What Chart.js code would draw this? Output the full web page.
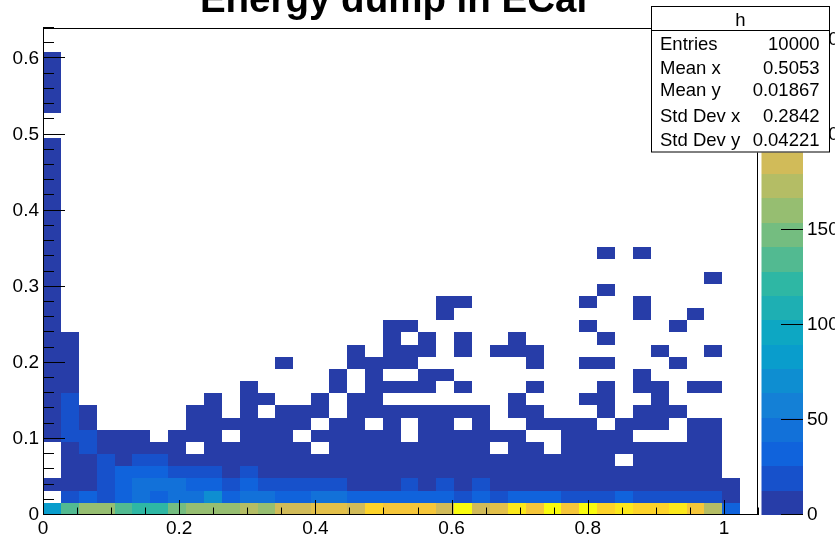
<!DOCTYPE html>
<html>
<head>
<meta charset="utf-8">
<script src="https://cdn.jsdelivr.net/npm/chart.js@4.4.1/dist/chart.umd.min.js"></script>
<style>
  html, body { margin: 0; padding: 0; background: #fff; }
  canvas { display: block; }
</style>
</head>
<body>
<canvas id="c" width="835" height="540"></canvas>
<script>
// ---- histogram binning ----
const nBinsX = 40, xMin = 0, xMax = 1.05;
const nBinsY = 40, yMin = 0, yMax = 0.64;
const xTickValues = [0, 0.2, 0.4, 0.6, 0.8, 1];
const yTickValues = [0, 0.1, 0.2, 0.3, 0.4, 0.5, 0.6];
const zTickValues = [0, 50, 100, 150, 200, 250];

const titleText = 'Energy dump in ECal';
const statsName = 'h';
const statsLabels = ['Entries', 'Mean x', 'Mean y', 'Std Dev x', 'Std Dev y'];
const statsValues = ['10000', '0.5053', '0.01867', '0.2842', '0.04221'];

// ---- bin contents: one array per y bin, indexed by x bin ----
const row00 = [83,134,161,158,136,121,124,148,159,162, 157,172,160,187,184,199,197,188,225,212, 210,213,185,244,189,200,236,209,244,212, 244,223,238,226,222,235,211,174,30,0];
const row01 = [0,19,32,20,33,46,31,44,45,70, 32,46,44,31,33,45,44,32,30,33, 31,34,32,20,31,19,32,30,33,20, 18,21,31,19,20,18,21,19,9,0];
const row02 = [8,11,10,19,32,45,44,46,31,33, 20,30,18,19,20,18,19,11,10,12, 19,11,18,12,17,11,12,10,11,12, 10,11,9,12,10,11,9,10,3,0];
const row03 = [0,8,9,18,31,30,32,17,19,18, 11,17,10,8,7,9,8,7,8,9, 7,8,6,8,7,9,8,7,8,6, 7,8,7,9,8,7,8,6,0,0];
const row04 = [0,7,6,17,9,18,17,5,6,5, 6,5,4,5,6,5,4,5,6,5, 4,5,6,5,4,5,6,5,4,5, 6,5,0,4,5,6,5,4,0,0];
const row05 = [0,5,16,4,5,4,5,6,0,4, 5,4,3,4,5,0,4,3,4,5, 3,4,3,4,5,0,4,3,0,4, 3,4,3,4,3,4,5,3,0,0];
const row06 = [3,15,14,3,2,3,0,3,2,3, 0,2,3,2,0,3,2,3,2,3, 0,2,3,2,3,2,2,0,0,2, 3,2,2,0,0,0,2,3,0,0];
const row07 = [2,14,2,0,0,0,0,0,2,2, 1,2,2,2,1,0,2,2,0,2, 0,1,2,0,2,0,0,2,1,2, 1,0,1,2,1,0,1,2,0,0];
const row08 = [2,15,1,0,0,0,0,0,1,2, 0,1,0,1,2,1,0,2,1,1, 2,1,1,1,1,0,1,1,0,0, 0,1,0,1,2,1,0,0,0,0];
const row09 = [1,14,0,0,0,0,0,0,0,1, 0,1,1,0,0,1,0,1,1,0, 0,0,0,0,0,0,1,0,0,0, 1,1,0,0,1,0,0,0,0,0];
const row10 = [1,2,0,0,0,0,0,0,0,0, 0,1,0,0,0,0,1,0,1,1, 1,1,0,1,0,0,0,1,0,0, 0,1,0,1,1,0,1,1,0,0];
const row11 = [1,1,0,0,0,0,0,0,0,0, 0,0,0,0,0,0,1,0,1,0, 0,1,1,0,0,0,0,0,0,0, 0,0,0,1,0,0,0,0,0,0];
const row12 = [1,1,0,0,0,0,0,0,0,0, 0,0,0,1,0,0,0,1,1,1, 1,0,0,0,0,0,0,1,0,0, 1,1,0,0,0,1,0,0,0,0];
const row13 = [1,1,0,0,0,0,0,0,0,0, 0,0,0,0,0,0,0,1,0,1, 1,1,0,1,0,1,1,1,0,0, 0,0,0,0,1,0,0,1,0,0];
const row14 = [1,1,0,0,0,0,0,0,0,0, 0,0,0,0,0,0,0,0,0,1, 0,1,0,1,0,0,1,0,0,0, 0,1,0,0,0,0,0,0,0,0];
const row15 = [1,0,0,0,0,0,0,0,0,0, 0,0,0,0,0,0,0,0,0,1, 1,0,0,0,0,0,0,0,0,0, 1,0,0,0,0,1,0,0,0,0];
const row16 = [1,0,0,0,0,0,0,0,0,0, 0,0,0,0,0,0,0,0,0,0, 0,0,1,0,0,0,0,0,0,0, 0,0,0,1,0,0,1,0,0,0];
const row17 = [1,0,0,0,0,0,0,0,0,0, 0,0,0,0,0,0,0,0,0,0, 0,0,1,1,0,0,0,0,0,0, 1,0,0,1,0,0,0,0,0,0];
const row18 = [1,0,0,0,0,0,0,0,0,0, 0,0,0,0,0,0,0,0,0,0, 0,0,0,0,0,0,0,0,0,0, 0,1,0,0,0,0,0,0,0,0];
const row19 = [1,0,0,0,0,0,0,0,0,0, 0,0,0,0,0,0,0,0,0,0, 0,0,0,0,0,0,0,0,0,0, 0,0,0,0,0,0,0,1,0,0];
const row20 = [1,0,0,0,0,0,0,0,0,0, 0,0,0,0,0,0,0,0,0,0, 0,0,0,0,0,0,0,0,0,0, 0,0,0,0,0,0,0,0,0,0];
const row21 = [1,0,0,0,0,0,0,0,0,0, 0,0,0,0,0,0,0,0,0,0, 0,0,0,0,0,0,0,0,0,0, 0,1,0,1,0,0,0,0,0,0];
const row22 = [1,0,0,0,0,0,0,0,0,0, 0,0,0,0,0,0,0,0,0,0, 0,0,0,0,0,0,0,0,0,0, 0,0,0,0,0,0,0,0,0,0];
// first x bin only, y bins 23..37
const firstColumnHigh = [1,1,1,1,1,1,1,1,0,0,1,1,1,1,1];

const rowArrays = [row00,row01,row02,row03,row04,row05,row06,row07,row08,row09,row10,
                   row11,row12,row13,row14,row15,row16,row17,row18,row19,row20,row21,row22];

const dx = (xMax - xMin) / nBinsX;
const dy = (yMax - yMin) / nBinsY;

// cell centres with their contents
const cells = [];
rowArrays.forEach((row, j) => {
  row.forEach((v, i) => {
    if (v > 0) cells.push({ x: xMin + (i + 0.5) * dx, y: yMin + (j + 0.5) * dy, v });
  });
});
firstColumnHigh.forEach((v, k) => {
  if (v > 0) cells.push({ x: xMin + 0.5 * dx, y: yMin + (23 + k + 0.5) * dy, v });
});

const zMax = Math.max(...cells.map(c => c.v)) * 1.05;

// ---- kBird palette, 20 contour levels ----
const birdStops = [0.0000, 0.1250, 0.2500, 0.3750, 0.5000, 0.6250, 0.7500, 0.8750, 1.0000];
const birdR = [0.2082, 0.0592, 0.0780, 0.0232, 0.1802, 0.5301, 0.8186, 0.9956, 0.9764];
const birdG = [0.1664, 0.3599, 0.5041, 0.6419, 0.7178, 0.7492, 0.7328, 0.7862, 0.9832];
const birdB = [0.5293, 0.8684, 0.8385, 0.7914, 0.6425, 0.4662, 0.3499, 0.1968, 0.0539];
const nContours = 20, nColors = 255;

function birdColor(f) {
  let s = 0;
  while (s < birdStops.length - 2 && f > birdStops[s + 1]) s++;
  const t = (f - birdStops[s]) / (birdStops[s + 1] - birdStops[s]);
  const c = a => Math.round(255 * (a[s] + (a[s + 1] - a[s]) * t));
  return `rgb(${c(birdR)},${c(birdG)},${c(birdB)})`;
}
function bandColor(k) {
  const p = Math.floor((k + 0.99) * nColors / nContours);
  return birdColor(p / (nColors - 1));
}
function bandOf(v) {
  return Math.min(nContours - 1, Math.floor(0.01 + v * nContours / zMax));
}

const FONT = '"Liberation Sans", Arial, Helvetica, sans-serif';
Chart.defaults.font.family = FONT;
Chart.defaults.color = '#000';

const fmt = v => String(Math.round(v * 100) / 100);

// fixed axis thickness, no extra label overhang padding
function fixBox(size) {
  return s => {
    if (s.isHorizontal()) s.height = size; else s.width = size;
    s.paddingTop = 0; s.paddingBottom = 0; s.paddingLeft = 0; s.paddingRight = 0;
  };
}

function line(ctx, x0, y0, x1, y1) {
  ctx.beginPath(); ctx.moveTo(x0, y0); ctx.lineTo(x1, y1); ctx.stroke();
}

const th2Plugin = {
  id: 'th2colz',
  beforeDatasetsDraw(chart) {
    const { ctx, scales: { x, y } } = chart;
    ctx.save();
    for (const p of chart.data.datasets[0].data) {
      const x0 = Math.round(x.getPixelForValue(p.x - dx / 2));
      const x1 = Math.round(x.getPixelForValue(p.x + dx / 2));
      const y0 = Math.round(y.getPixelForValue(p.y + dy / 2));
      const y1 = Math.round(y.getPixelForValue(p.y - dy / 2));
      ctx.fillStyle = bandColor(bandOf(p.v));
      ctx.fillRect(x0, y0, x1 - x0, y1 - y0);
    }
    ctx.restore();
  },
  afterDraw(chart) {
    const { ctx, chartArea: a, scales: { x, y, z } } = chart;
    ctx.save();
    ctx.strokeStyle = '#000';
    ctx.lineWidth = 1;

    // frame
    ctx.strokeRect(a.left + 0.5, a.top + 0.5, a.right - a.left - 1, a.bottom - a.top - 1);

    // y ticks (inward)
    for (let k = 0; k <= 32; k++) {
      const v = k * 0.02;
      const py = Math.round(y.getPixelForValue(v)) - 0.5;
      const major = k % 5 === 0;
      line(ctx, a.left, py, a.left + (major ? 22 : 11), py);
    }
    // x ticks (inward)
    for (let k = 0; k <= 21; k++) {
      const v = k * 0.05;
      const px = Math.round(x.getPixelForValue(v)) + 0.5;
      const major = k % 4 === 0;
      line(ctx, px, a.bottom, px, a.bottom - (major ? 15 : 7.5));
    }

    // colour palette
    const pl = z.left + 3.5, pr = z.left + 45;
    for (let k = 0; k < nContours; k++) {
      const yb = Math.round(z.getPixelForValue(k * zMax / nContours));
      const yt = Math.round(z.getPixelForValue((k + 1) * zMax / nContours));
      ctx.fillStyle = bandColor(k);
      ctx.fillRect(pl, yt, pr - pl, yb - yt);
    }
    for (const v of zTickValues) {
      const py = Math.round(z.getPixelForValue(v)) - 0.5;
      line(ctx, pr, py, pr - 22, py);
    }

    // statistics box
    const sx0 = 651, sy0 = 6, sx1 = 830, sy1 = 152.5;
    ctx.fillStyle = '#fff';
    ctx.fillRect(sx0, sy0, sx1 - sx0, sy1 - sy0);
    ctx.strokeRect(sx0 + 0.5, sy0 + 0.5, sx1 - sx0 - 1, sy1 - sy0 - 1);
    line(ctx, sx0, 30.5, sx1, 30.5);
    ctx.fillStyle = '#000';
    ctx.font = `18.5px ${FONT}`;
    ctx.textBaseline = 'middle';
    ctx.textAlign = 'center';
    ctx.fillText(statsName, (sx0 + sx1) / 2, 20.5);
    const rowY = [44.5, 68.8, 91, 117, 140.5];
    statsLabels.forEach((t, i) => {
      ctx.textAlign = 'left';
      ctx.fillText(t, 660, rowY[i]);
      ctx.textAlign = 'right';
      ctx.fillText(statsValues[i], 819.5, rowY[i]);
    });

    // title
    ctx.font = `bold 38.5px ${FONT}`;
    ctx.textAlign = 'center';
    ctx.textBaseline = 'alphabetic';
    ctx.fillText(titleText, 393.5, 12);
    ctx.restore();
  }
};

new Chart(document.getElementById('c'), {
  type: 'scatter',
  data: {
    datasets: [{
      label: titleText,
      data: cells,
      pointRadius: 0,
      pointHoverRadius: 0,
      showLine: false
    }]
  },
  options: {
    responsive: false,
    animation: false,
    devicePixelRatio: 1,
    layout: { padding: { top: 28, left: 0, right: 0, bottom: 0 } },
    plugins: {
      legend: { display: false },
      tooltip: { enabled: false },
      title: { display: false }
    },
    scales: {
      x: {
        type: 'linear', position: 'bottom', min: xMin, max: xMax,
        grid: { display: false, drawTicks: false },
        border: { display: false },
        ticks: { padding: 2, font: { size: 19 }, autoSkip: false, maxRotation: 0, callback: fmt },
        afterBuildTicks: s => { s.ticks = xTickValues.map(v => ({ value: v })); },
        afterFit: fixBox(25)
      },
      y: {
        type: 'linear', position: 'left', min: yMin, max: yMax,
        grid: { display: false, drawTicks: false },
        border: { display: false },
        ticks: { padding: 4, font: { size: 19 }, autoSkip: false, callback: fmt },
        afterBuildTicks: s => { s.ticks = yTickValues.map(v => ({ value: v })); },
        afterFit: fixBox(43)
      },
      z: {
        type: 'linear', axis: 'y', position: 'right', min: 0, max: zMax,
        grid: { display: false, drawTicks: false },
        border: { display: false },
        ticks: { padding: 49, font: { size: 19 }, autoSkip: false, callback: fmt },
        afterBuildTicks: s => { s.ticks = zTickValues.map(v => ({ value: v })); },
        afterFit: fixBox(77)
      }
    }
  },
  plugins: [th2Plugin]
});
</script>
</body>
</html>
